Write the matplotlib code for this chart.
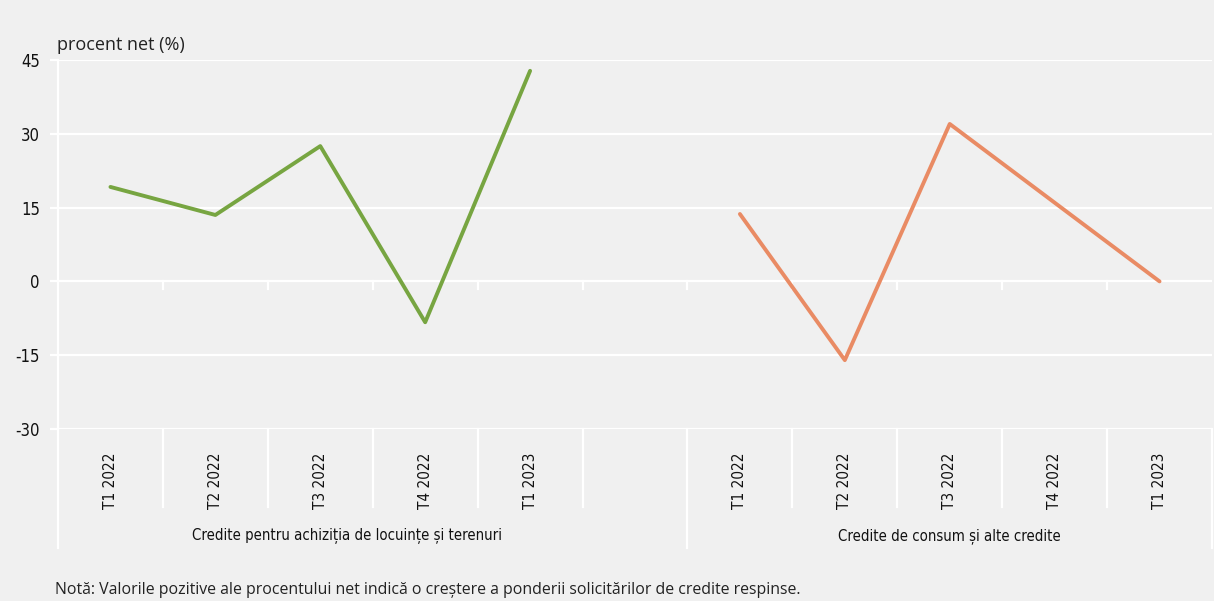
import os
import matplotlib.pyplot as plt
import matplotlib.font_manager as fm

# Data
quarters = ['T1 2022', 'T2 2022', 'T3 2022', 'T4 2022', 'T1 2023']
locuinte = [19.2, 13.5, 27.5, -8.3, 42.8]
consum = [13.7, -16.0, 32.0, 16.0, 0.0]
groups = ['Credite pentru achiziția de locuințe și terenuri', 'Credite de consum și alte credite']
yticks = [-30, -15, 0, 15, 30, 45]

bg = '#f0f0f0'
green = '#77a541'
orange = '#e98b64'
regular = ['Open Sans', 'DejaVu Sans']


def narrow_font(size):
    # pick a condensed face if one is installed
    files = [f.fname for f in fm.fontManager.ttflist]
    for want in ['LiberationSansNarrow-Regular', 'DejaVuSansCondensed.ttf']:
        for p in files:
            if want in os.path.basename(p):
                return fm.FontProperties(fname=p, size=size)
    return fm.FontProperties(family='DejaVu Sans', stretch='condensed', size=size)


fp = narrow_font(11)
fpg = narrow_font(10.7)
fpy = narrow_font(12)

fig = plt.figure(figsize=(12.14, 6.01), dpi=100, facecolor=bg)
ax = fig.add_axes([58 / 1214, 1 - 429 / 601, (1212 - 58) / 1214, (429 - 60) / 601])
ax.set_facecolor(bg)

x1 = list(range(len(quarters)))
x2 = [i + len(quarters) + 1 for i in x1]
ax.plot(x1, locuinte, color=green, lw=2.8, solid_capstyle='round', zorder=3)
ax.plot(x2, consum, color=orange, lw=2.8, solid_capstyle='round', zorder=3)

nslots = 2 * len(quarters) + 1
ax.set_xlim(-0.5, nslots - 0.5)
ax.set_ylim(-30, 45)
ax.set_yticks(yticks)
ax.set_yticklabels([str(v) for v in yticks], fontproperties=fpy, color='#111111')
ax.grid(axis='y', color='white', lw=1.6)
ax.set_axisbelow(True)
ax.tick_params(axis='y', length=6, width=1.6, color='white', pad=7)
ax.set_xticks([])
for s in ['top', 'right', 'bottom']:
    ax.spines[s].set_visible(False)
ax.spines['left'].set_color('white')
ax.spines['left'].set_linewidth(1.6)

# separators under the axis
tr = ax.get_xaxis_transform()
for k in range(nslots + 1):
    xb = k - 0.5
    bottom = -0.323 if k in (0, len(quarters) + 1, nslots) else -0.211
    ax.plot([xb, xb], [0, bottom], transform=tr, color='white', lw=1.6, clip_on=False)
    if 0 < k < nslots:
        ax.plot([xb, xb], [0, -1.6], color='white', lw=1.6, zorder=1)

for xs in (x1, x2):
    for x, lab in zip(xs, quarters):
        ax.text(x, -0.065, lab, transform=tr, rotation=90, ha='center', va='top',
                fontproperties=fp, color='#111111')

ax.text((len(quarters) - 0.5) / 2, -0.29, groups[0], transform=tr, ha='center',
        va='center', fontproperties=fpg, color='#111111')
ax.text((x2[0] - 0.5 + nslots - 0.5) / 2, -0.29, groups[1], transform=tr, ha='center',
        va='center', fontproperties=fpg, color='#111111')

fig.text(57 / 1214, 1 - 45 / 601, 'procent net (%)', family=regular, fontsize=13,
         color='#222222', va='center', ha='left')
fig.text(55 / 1214, 1 - 590 / 601,
         'Notă: Valorile pozitive ale procentului net indică o creștere a ponderii solicitărilor de credite respinse.',
         family=regular, fontsize=11.4, color='#222222', va='center', ha='left')

fig.savefig('out.png', dpi=100, facecolor=bg)
